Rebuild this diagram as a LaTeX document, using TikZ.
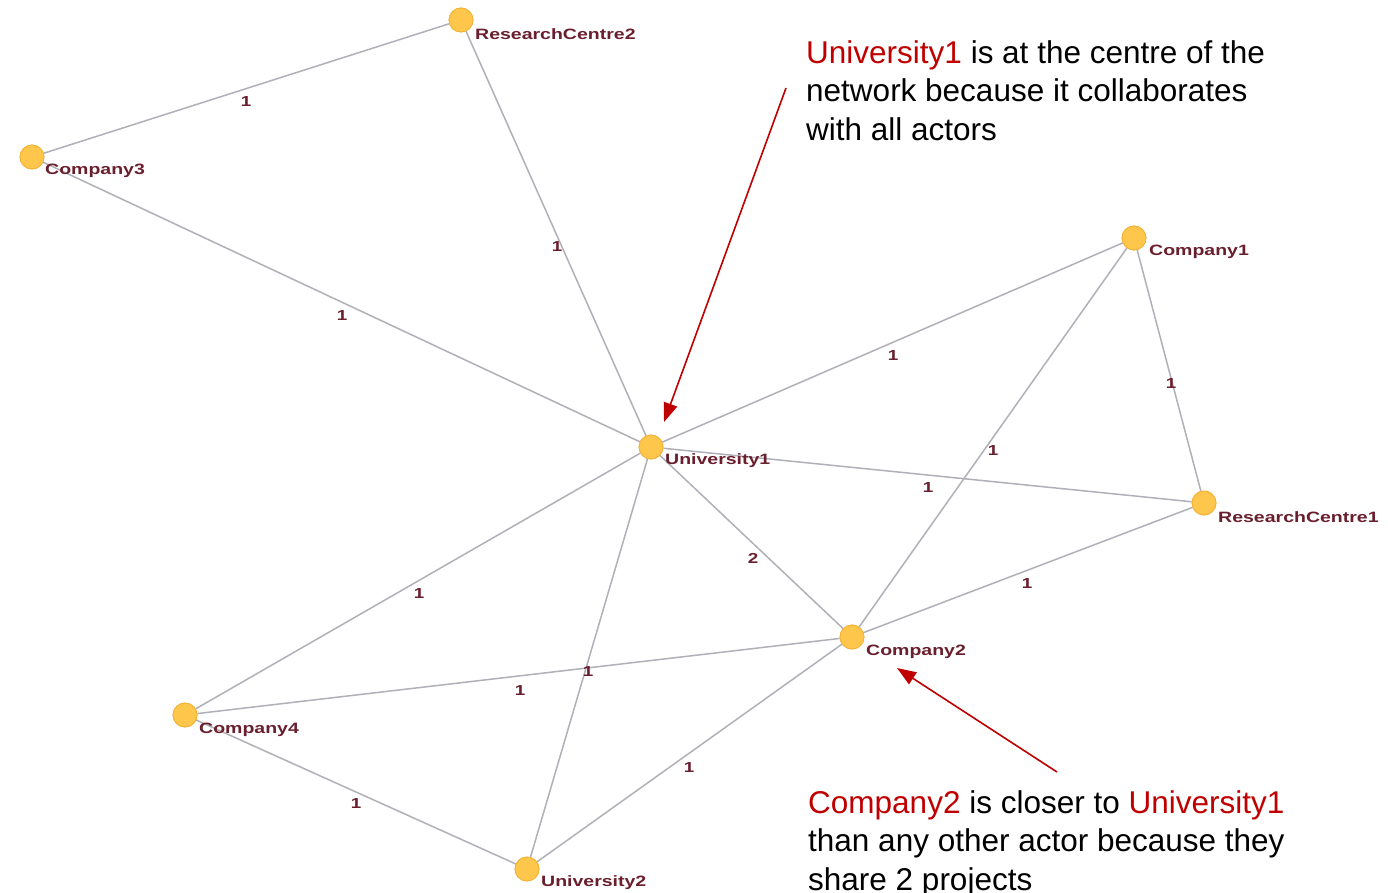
\documentclass[tikz,border=0pt]{standalone}
\usepackage{fontspec}
\setmainfont{Liberation Sans}
\newfontfamily\lblfont{Liberation Sans}[FakeStretch=1.3]
\usetikzlibrary{arrows.meta}
\definecolor{nodefill}{HTML}{FFC64C}
\definecolor{nodeedge}{HTML}{F2B236}
\definecolor{linkgray}{HTML}{B0B0B8}
\definecolor{maroon}{HTML}{6A1F2E}
\definecolor{notered}{HTML}{C00000}
\tikzset{
  actor/.style={circle, fill=nodefill, draw=nodeedge, line width=0.8pt, minimum size=24pt, inner sep=0pt},
  actorname/.style={anchor=west, inner sep=0pt, text=maroon, font=\lblfont\bfseries\fontsize{15}{15}\selectfont},
  link/.style={draw=linkgray, line width=1.5pt},
  weight/.style={inner sep=0pt, text=maroon, font=\lblfont\bfseries\fontsize{14.5}{14.5}\selectfont},
  note/.style={anchor=north west, inner sep=0pt, align=left, font=\fontsize{31.5}{38.5}\selectfont},
  pointer/.style={draw=notered, line width=1.6pt, -{Triangle[length=19pt,width=14pt]}}
}
\begin{document}
\begin{tikzpicture}[x=1pt,y=-1pt]
\useasboundingbox (0,0) rectangle (1388,893);
\fill[white] (0,0) rectangle (1388,893);

% actors (placed first so the links can refer to them)
\node[actor] (rc2) at (461,20) {};
\node[actor] (c3)  at (32,157) {};
\node[actor] (c1)  at (1134,238) {};
\node[actor] (u1)  at (651,447) {};
\node[actor] (rc1) at (1204,503) {};
\node[actor] (c2)  at (852,637) {};
\node[actor] (c4)  at (185,715) {};
\node[actor] (u2)  at (527,869) {};

% collaborations
\path[link] (rc2) -- (c3);
\path[link] (rc2) -- (u1);
\path[link] (c3) -- (u1);
\path[link] (c1) -- (u1);
\path[link] (c1) -- (rc1);
\path[link] (c1) -- (c2);
\path[link] (u1) -- (rc1);
\path[link] (u1) -- (c2);
\path[link] (rc1) -- (c2);
\path[link] (u1) -- (c4);
\path[link] (u1) -- (u2);
\path[link] (c4) -- (c2);
\path[link] (c2) -- (u2);
\path[link] (c4) -- (u2);

% redraw actors above the links
\foreach \n in {rc2,c3,c1,u1,rc1,c2,c4,u2}{
  \node[actor] at (\n) {};
}

% actor names
\node[actorname] (rc2l) at (475,34) {ResearchCentre2};
\node[actorname] (c3l)  at (45,171) {Company3};
\node[actorname] (c1l)  at (1149,252) {Company1};
\node[actorname] (u1l)  at (665,461) {University1};
\node[actorname] (rc1l) at (1218,517) {ResearchCentre1};
\node[actorname] (c2l)  at (866,652) {Company2};
\node[actorname] (c4l)  at (199,730) {Company4};
\node[actorname] (u2l)  at (541,883) {University2};

% link weights
\node[weight] (w1)  at (246,102) {1};
\node[weight] (w2)  at (557,247) {1};
\node[weight] (w3)  at (342,316) {1};
\node[weight] (w4)  at (893,356) {1};
\node[weight] (w5)  at (1171,384) {1};
\node[weight] (w6)  at (993,451) {1};
\node[weight] (w7)  at (928,488) {1};
\node[weight] (w8)  at (753,558) {2};
\node[weight] (w9)  at (1027,584) {1};
\node[weight] (w10) at (419,594) {1};
\node[weight] (w11) at (588,672) {1};
\node[weight] (w12) at (520,691) {1};
\node[weight] (w13) at (689,768) {1};
\node[weight] (w14) at (356,804) {1};

% notes
\node[note] (noteA) at (806,40) {\textcolor{notered}{University1} is at the centre of the\\network because it collaborates\\with all actors};
\node[note] (noteB) at (808,790) {\textcolor{notered}{Company2} is closer to \textcolor{notered}{University1}\\than any other actor because they\\share 2 projects};

\coordinate (pa) at (786,88);
\coordinate (ta) at (664,422);
\coordinate (pb) at (1057,772);
\coordinate (tb) at (897,668);
\draw[pointer] (pa) -- (ta);
\draw[pointer] (pb) -- (tb);
\end{tikzpicture}
\end{document}
